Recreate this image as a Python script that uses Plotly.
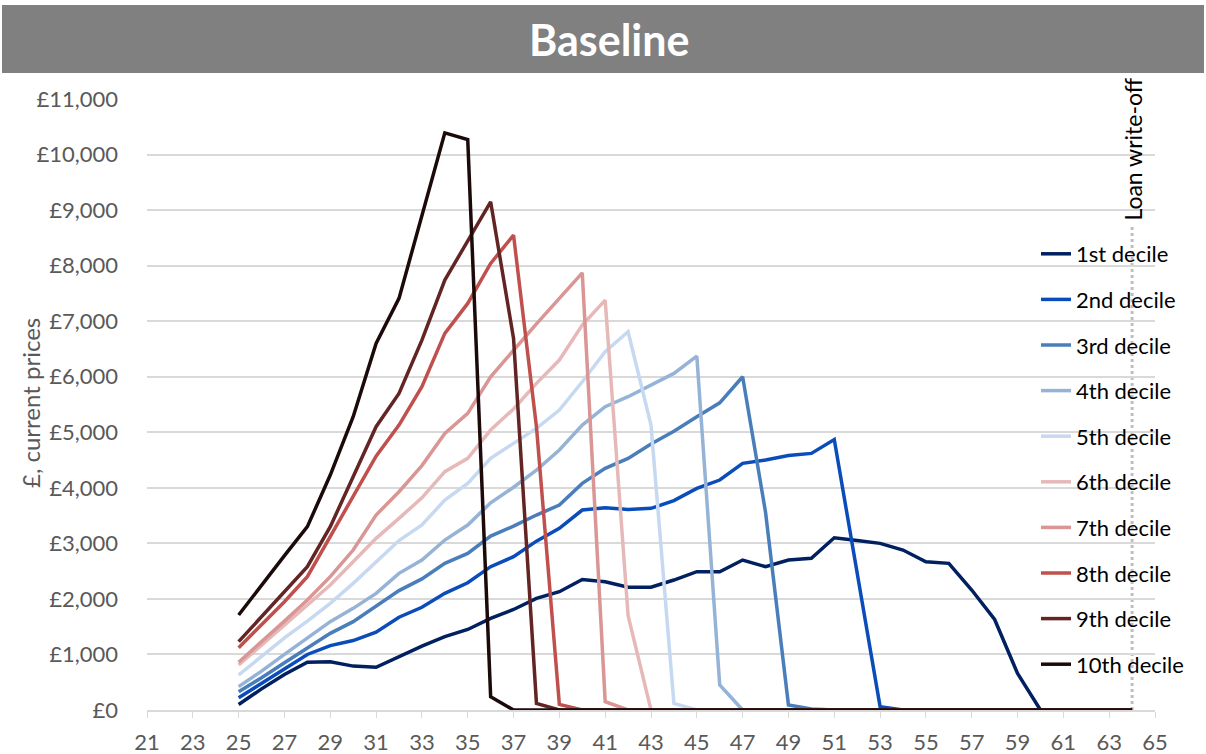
import plotly.graph_objects as go

ages = list(range(25, 65))

d1 = [100, 380, 640, 860, 870, 790, 770, 960, 1150, 1320, 1450, 1650, 1810, 2010, 2130, 2350, 2310, 2210, 2210, 2340,
      2490, 2490, 2700, 2580, 2700, 2730, 3100, 3050, 3000, 2880, 2670, 2640, 2160, 1630, 660, 0, 0, 0, 0, 0]
d2 = [220, 480, 750, 1000, 1160, 1250, 1400, 1670, 1850, 2100, 2290, 2580, 2760, 3040, 3270, 3600, 3640, 3610, 3630, 3770,
      3990, 4140, 4440, 4500, 4580, 4620, 4870, 2460, 60, 0, 0, 0, 0, 0, 0, 0, 0, 0, 0, 0]
d3 = [330, 580, 850, 1120, 1380, 1590, 1870, 2150, 2360, 2640, 2820, 3130, 3310, 3510, 3690, 4080, 4350, 4530, 4790, 5020,
      5280, 5530, 6000, 3560, 90, 20, 0, 0, 0, 0, 0, 0, 0, 0, 0, 0, 0, 0, 0, 0]
d4 = [420, 700, 1000, 1300, 1590, 1830, 2100, 2460, 2700, 3060, 3330, 3730, 4010, 4320, 4680, 5130, 5460, 5640, 5850, 6060,
      6370, 450, 0, 0, 0, 0, 0, 0, 0, 0, 0, 0, 0, 0, 0, 0, 0, 0, 0, 0]
d5 = [630, 970, 1300, 1600, 1920, 2280, 2670, 3050, 3330, 3780, 4080, 4530, 4800, 5070, 5400, 5910, 6450, 6810, 5130, 120,
      0, 0, 0, 0, 0, 0, 0, 0, 0, 0, 0, 0, 0, 0, 0, 0, 0, 0, 0, 0]
d6 = [810, 1170, 1530, 1900, 2250, 2670, 3090, 3450, 3820, 4290, 4530, 5040, 5420, 5880, 6300, 6930, 7380, 1700, 0, 0,
      0, 0, 0, 0, 0, 0, 0, 0, 0, 0, 0, 0, 0, 0, 0, 0, 0, 0, 0, 0]
d7 = [860, 1220, 1600, 1980, 2400, 2880, 3510, 3930, 4400, 4980, 5340, 6000, 6480, 6950, 7410, 7870, 150, 0, 0, 0,
      0, 0, 0, 0, 0, 0, 0, 0, 0, 0, 0, 0, 0, 0, 0, 0, 0, 0, 0, 0]
d8 = [1120, 1530, 1950, 2400, 3120, 3850, 4570, 5130, 5820, 6780, 7320, 8040, 8550, 5100, 100, 0, 0, 0, 0, 0,
      0, 0, 0, 0, 0, 0, 0, 0, 0, 0, 0, 0, 0, 0, 0, 0, 0, 0, 0, 0]
d9 = [1230, 1680, 2130, 2580, 3300, 4200, 5100, 5700, 6660, 7740, 8460, 9150, 6690, 120, 0, 0, 0, 0, 0, 0,
      0, 0, 0, 0, 0, 0, 0, 0, 0, 0, 0, 0, 0, 0, 0, 0, 0, 0, 0, 0]
d10 = [1710, 2250, 2780, 3300, 4230, 5280, 6600, 7410, 8880, 10390, 10270, 240, 0, 0, 0, 0, 0, 0, 0, 0,
       0, 0, 0, 0, 0, 0, 0, 0, 0, 0, 0, 0, 0, 0, 0, 0, 0, 0, 0, 0]

series_names = ["1st decile", "2nd decile", "3rd decile", "4th decile", "5th decile",
                "6th decile", "7th decile", "8th decile", "9th decile", "10th decile"]
series_values = [d1, d2, d3, d4, d5, d6, d7, d8, d9, d10]
colors = ["#002060", "#0A4DBA", "#4A7EBB", "#95B3D7", "#C6D9F1",
          "#E6B9B8", "#D99694", "#C0504D", "#632523", "#1C0A0A"]

x_ticks = list(range(21, 66, 2))
y_ticks = list(range(0, 11001, 1000))
y_tick_text = ["£0"] + ["£{:,}".format(v) for v in y_ticks[1:]]

writeoff_age = 64
title_text = "Baseline"
y_title = "£, current prices"
writeoff_label = "Loan write-off"

FONT = "Lato"

fig = go.Figure()
for i, (name, vals, col) in enumerate(zip(series_names, series_values, colors)):
    fig.add_trace(go.Scatter(x=ages, y=vals, mode="lines", name=name,
                             legendgroup="g%d" % i,
                             line=dict(color=col, width=3.5)))

# loan write-off dotted line
fig.add_shape(type="line", xref="x", yref="paper", x0=writeoff_age, x1=writeoff_age,
              y0=0, y1=(710 - 227) / 611, line=dict(color="#BFBFBF", width=3, dash="dot"), layer="below")
fig.add_annotation(x=writeoff_age, xref="x", y=(710 - 223) / 611, yref="paper", text=writeoff_label,
                   textangle=-90, showarrow=False, yanchor="bottom", xanchor="center",
                   font=dict(family=FONT, size=23, color="#000000"))

# title bar
fig.add_shape(type="rect", xref="paper", yref="paper",
              x0=(2 - 147) / 1008, x1=(1204 - 147) / 1008,
              y0=(710 - 73) / 611, y1=(710 - 5) / 611,
              fillcolor="#808080", line=dict(width=0), layer="below")
fig.add_annotation(x=(609 - 147) / 1008, xref="paper", y=(710 - 40) / 611, yref="paper",
                   text="<b>%s</b>" % title_text,
                   showarrow=False, xanchor="center", yanchor="middle",
                   font=dict(family=FONT, size=43, color="#FFFFFF"))

# y axis title
fig.add_annotation(x=(30 - 147) / 1008, xref="paper", y=(710 - 403) / 611, yref="paper",
                   text=y_title, textangle=-90, showarrow=False, xanchor="center", yanchor="middle",
                   font=dict(family=FONT, size=24, color="#595959"))

fig.update_layout(
    width=1206, height=754,
    margin=dict(l=147, r=51, t=99, b=44),
    paper_bgcolor="#FFFFFF", plot_bgcolor="#FFFFFF",
    font=dict(family=FONT, size=22, color="#595959"),
    showlegend=True,
    legend=dict(x=(1036 - 147) / 1008, y=(710 - 233) / 611, xanchor="left", yanchor="top",
                bgcolor="rgba(0,0,0,0)", font=dict(family=FONT, size=22, color="#000000"),
                tracegroupgap=14, traceorder="grouped"),
    xaxis=dict(range=[21, 65], tickvals=x_ticks, ticks="outside", ticklen=6, tickcolor="#D9D9D9",
               showline=True, linecolor="#D9D9D9", linewidth=1.5, showgrid=False, zeroline=False,
               automargin=False,
               tickfont=dict(family=FONT, size=22, color="#595959"), ticklabelstandoff=6),
    yaxis=dict(range=[0, 11000], tickvals=y_ticks, ticktext=y_tick_text, showgrid=True,
               gridcolor="#D9D9D9", gridwidth=1.5, zeroline=False, showline=False, automargin=False,
               tickfont=dict(family=FONT, size=22, color="#595959"), ticklabelstandoff=28),
)

fig.write_html("out.html")
